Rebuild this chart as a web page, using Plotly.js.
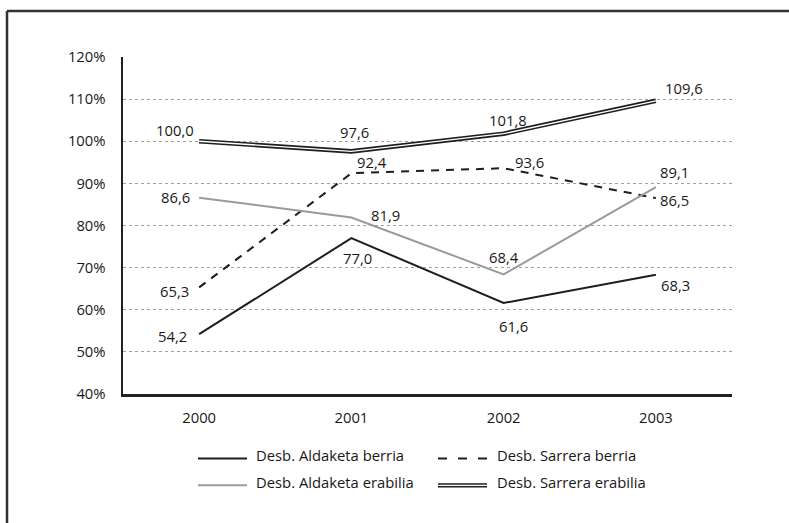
<!DOCTYPE html>
<html>
<head>
<meta charset="utf-8">
<script src="https://cdn.plot.ly/plotly-3.0.1.min.js"></script>
<style>html,body{margin:0;padding:0;background:#fff;}#chart{width:789px;height:523px;}</style>
</head>
<body>
<div id="chart"></div>
<script>
// ---- data ----
var years = ['2000', '2001', '2002', '2003'];
var aldaketaBerria   = [54.2, 77.0, 61.6, 68.3];
var sarreraBerria    = [65.3, 92.4, 93.6, 86.5];
var aldaketaErabilia = [86.6, 81.9, 68.4, 89.1];
var sarreraErabilia  = [100.0, 97.6, 101.8, 109.6];
var seriesNames = ['Desb. Aldaketa berria', 'Desb. Sarrera berria', 'Desb. Aldaketa erabilia', 'Desb. Sarrera erabilia'];

// ---- label offsets (pixels, style only) ----
var offAB = [[-27, -2], [6, -20], [10, -23], [20, -10]];
var offSB = [[-25, -4], [21, 11], [26, 6], [19, -2]];
var offAE = [[-24, 1], [34, 3], [0, 17], [19, 15]];
var offSE = [[-24, 11], [3, 19], [4, 14], [28, 13]];

var FONT = 'Open Sans, Noto Sans, sans-serif';
var FS = 14.8;
var TXT = '#1a1718';
var BLACK = '#1e1e1e';
var GRAY = '#9a9a9a';

// plot area in pixels
var L = 123, R = 732, T = 57, B = 394.5;
function px(x) { return (x - L) / (R - L); }
function py(y) { return (B - y) / (B - T); }

var traces = [
  {x: years, y: aldaketaBerria, mode: 'lines', line: {color: BLACK, width: 2}, name: seriesNames[0], showlegend: false, hoverinfo: 'skip'},
  {x: years, y: sarreraBerria, mode: 'lines', line: {color: BLACK, width: 2, dash: '8px,7px'}, name: seriesNames[1], showlegend: false, hoverinfo: 'skip'},
  {x: years, y: aldaketaErabilia, mode: 'lines', line: {color: GRAY, width: 2}, name: seriesNames[2], showlegend: false, hoverinfo: 'skip'},
  {x: years, y: sarreraErabilia, mode: 'lines', line: {color: BLACK, width: 4.6}, name: seriesNames[3], showlegend: false, hoverinfo: 'skip'},
  {x: years, y: sarreraErabilia, mode: 'lines', line: {color: '#ffffff', width: 1.3}, showlegend: false, hoverinfo: 'skip'}
];

function fmt(v) { return v.toFixed(1).replace('.', ','); }

var annotations = [];
function addLabels(vals, offs) {
  for (var i = 0; i < vals.length; i++) {
    annotations.push({x: i, y: vals[i], xref: 'x', yref: 'y', text: fmt(vals[i]), showarrow: false,
      xshift: offs[i][0], yshift: offs[i][1], font: {family: FONT, size: FS, color: TXT}});
  }
}
addLabels(aldaketaBerria, offAB);
addLabels(sarreraBerria, offSB);
addLabels(aldaketaErabilia, offAE);
addLabels(sarreraErabilia, offSE);

var shapes = [];
// frame
shapes.push({type: 'line', xref: 'paper', yref: 'paper', x0: px(7), x1: px(800), y0: py(11), y1: py(11), line: {color: '#333', width: 2.5}});
shapes.push({type: 'line', xref: 'paper', yref: 'paper', x0: px(7), x1: px(7), y0: py(11), y1: py(540), line: {color: '#333', width: 2.5}});

// legend (manual)
var legRows = [456, 483];
var legCols = [[198, 247, 254], [438, 487, 495]];
var legItems = [
  {row: 0, col: 0, color: BLACK, width: 2, dash: 'solid'},
  {row: 0, col: 1, color: BLACK, width: 2, dash: '9px,11px'},
  {row: 1, col: 0, color: GRAY, width: 2, dash: 'solid'},
  {row: 1, col: 1, color: BLACK, width: 4.4, dash: 'solid', dbl: true}
];
legItems.forEach(function (it, k) {
  var y = legRows[it.row], c = legCols[it.col];
  shapes.push({type: 'line', xref: 'paper', yref: 'paper', x0: px(c[0]), x1: px(c[1]), y0: py(y + 3), y1: py(y + 3),
    line: {color: it.color, width: it.width, dash: it.dash}});
  if (it.dbl) {
    shapes.push({type: 'line', xref: 'paper', yref: 'paper', x0: px(c[0]), x1: px(c[1]), y0: py(y + 3), y1: py(y + 3),
      line: {color: '#ffffff', width: 1.2}});
  }
  annotations.push({xref: 'paper', yref: 'paper', x: px(c[2]), y: py(y), xanchor: 'left', yanchor: 'middle',
    text: seriesNames[k], showarrow: false, font: {family: FONT, size: FS, color: TXT}});
});

var layout = {
  width: 789, height: 523,
  margin: {l: L, r: 789 - R, t: T, b: 523 - B, pad: 0},
  paper_bgcolor: '#ffffff', plot_bgcolor: '#ffffff',
  showlegend: false,
  font: {family: FONT, size: FS, color: TXT},
  xaxis: {type: 'category', range: [-0.5, 3.5], showgrid: false, zeroline: false, showline: true,
    linecolor: '#222', linewidth: 2.5, ticks: '', ticklabelstandoff: 9, tickfont: {family: FONT, size: FS, color: TXT}, fixedrange: true},
  yaxis: {range: [40, 120], dtick: 10, tick0: 40, ticksuffix: '%', showgrid: true, gridcolor: '#a0a0a0', gridwidth: 1, griddash: 'dot',
    zeroline: false, showline: true, linecolor: '#222', linewidth: 2.5, ticks: '', ticklabelstandoff: 12,
    tickfont: {family: FONT, size: FS, color: TXT}, fixedrange: true},
  shapes: shapes,
  annotations: annotations
};

Plotly.newPlot('chart', traces, layout, {displayModeBar: false, staticPlot: true});
</script>
</body>
</html>
